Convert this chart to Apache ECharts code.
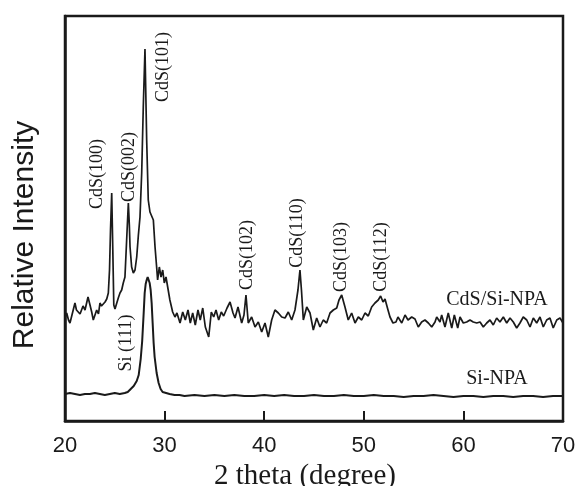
<!DOCTYPE html>
<html>
<head>
<meta charset="utf-8">
<script src="https://cdn.jsdelivr.net/npm/echarts@6/dist/echarts.min.js"></script>
<style>
html,body{margin:0;padding:0;background:#fff;}
#chart{width:576px;height:486px;}
</style>
</head>
<body>
<div id="chart"></div>
<script>
// X-axis ticks (2 theta, degree)
var xTicks = [20, 30, 40, 50, 60, 70];

// CdS/Si-NPA pattern: 2 theta (deg) and relative intensity (arb. units)
var cdsTheta = [20.00,20.17,20.35,20.50,20.70,21.00,21.15,21.31,21.51,21.68,21.81,22.01,22.31,22.51,22.68,22.84,23.01,23.18,23.36,23.51,23.66,23.82,24.02,24.19,24.35,24.47,24.57,24.69,24.80,24.90,25.02,25.19,25.35,25.52,25.69,25.85,26.02,26.19,26.36,26.46,26.53,26.69,26.86,27.03,27.20,27.36,27.53,27.70,27.86,28.03,28.20,28.36,28.53,28.70,28.87,29.04,29.20,29.30,29.47,29.64,29.81,29.97,30.14,30.31,30.53,30.81,31.04,31.24,31.55,31.82,32.08,32.35,32.58,32.82,33.08,33.35,33.58,33.83,34.09,34.43,34.69,34.93,35.16,35.43,35.69,35.93,36.27,36.57,36.87,37.07,37.37,37.74,37.97,38.17,38.40,38.74,39.08,39.41,39.75,40.08,40.41,40.75,41.08,41.42,41.76,42.09,42.42,42.76,43.09,43.39,43.59,43.74,43.93,44.27,44.60,44.93,45.27,45.60,45.93,46.27,46.61,46.94,47.28,47.51,47.78,48.11,48.44,48.78,49.12,49.45,49.79,50.12,50.45,50.79,51.12,51.45,51.69,51.93,52.13,52.43,52.63,52.93,53.23,53.43,53.81,54.14,54.44,54.81,55.14,55.47,55.81,56.14,56.48,56.82,57.15,57.32,57.65,57.82,58.15,58.48,58.83,59.09,59.43,59.66,59.99,60.33,60.66,60.99,61.34,61.67,62.00,62.34,62.67,63.00,63.34,63.67,64.01,64.35,64.68,65.01,65.35,65.68,66.01,66.36,66.69,67.02,67.36,67.69,68.02,68.36,68.69,69.02,69.37,69.70,70.00];
var cdsIntensity = [103,108,101,98,106,118,111,113,107,108,115,111,124,116,109,101,106,111,107,118,115,113,119,122,128,151,191,228,171,116,112,113,123,128,131,138,144,181,218,196,174,154,148,151,164,185,204,248,314,372,281,221,209,211,201,174,154,141,154,144,151,138,144,134,121,109,104,108,98,109,101,111,98,108,96,111,101,113,94,84,109,104,111,101,109,105,113,119,108,103,114,98,106,126,98,104,94,99,89,98,84,101,111,108,104,103,109,101,111,131,151,131,101,114,108,91,103,94,101,98,108,111,113,121,126,114,101,108,98,104,101,108,105,114,118,121,125,119,122,111,104,98,99,104,98,106,101,104,102,94,99,101,98,94,99,104,99,106,94,108,93,106,93,104,98,99,101,99,98,99,94,98,101,96,103,99,104,98,103,99,93,98,104,101,94,103,98,104,94,101,103,93,101,103,98];

// Si-NPA pattern
var siTheta = [20.0,20.5,21.0,21.5,22.0,22.5,23.0,23.5,24.0,24.5,25.0,25.5,26.0,26.3,26.6,26.9,27.2,27.4,27.6,27.75,27.9,28.0,28.1,28.2,28.3,28.4,28.5,28.6,28.7,28.8,28.9,29.0,29.2,29.4,29.6,29.8,30.0,30.5,31.0,31.5,32.0,33.0,34.0,35.0,36.0,37.0,38.0,39.0,40.0,41.0,42.0,43.0,44.0,45.0,46.0,47.0,48.0,49.0,50.0,51.0,52.0,53.0,54.0,55.0,56.0,57.0,58.0,59.0,60.0,61.0,62.0,63.0,64.0,65.0,66.0,67.0,68.0,69.0,70.0];
var siIntensity = [27,28,27,26,27,27,28,27,26,27,28,27,28,29,32,35,40,46,62,80,108,128,137,141,144,143,138,131,118,98,78,64,48,38,32,29,28,27,26,26,25,26,25,26,25,26,25,25,26,25,26,25,25,26,25,25,26,25,25,26,25,25,24,25,25,26,25,24,25,25,24,25,25,24,25,25,24,25,25];

// Annotation texts
var peakLabels = ['CdS(100)', 'CdS(002)', 'CdS(101)', 'CdS(102)', 'CdS(110)', 'CdS(103)', 'CdS(112)', 'Si (111)'];
var seriesNames = ['CdS/Si-NPA', 'Si-NPA'];

function pairs(xs, ys) {
  var out = [];
  for (var i = 0; i < xs.length; i++) out.push([xs[i], ys[i]]);
  return out;
}

var serif = 'Liberation Serif, Times New Roman, serif';
var sans = 'Liberation Sans, Arial, sans-serif';
var ink = '#1a1a1a';

// label anchor placement (pixels) for the rotated peak annotations
var peakPos = [[97,174],[129,167],[163,67],[247,255],[297,233],[341,257],[381,257],[126,343]];
var graphics = peakLabels.map(function (t, i) {
  return {
    type: 'text', x: peakPos[i][0], y: peakPos[i][1], rotation: Math.PI / 2,
    style: { text: t, fill: ink, font: '18px ' + serif, align: 'center', verticalAlign: 'middle' }
  };
});
graphics.push({ type: 'text', x: 497, y: 300, style: { text: seriesNames[0], fill: ink, font: '20px ' + serif, align: 'center', verticalAlign: 'middle' } });
graphics.push({ type: 'text', x: 497, y: 379, style: { text: seriesNames[1], fill: ink, font: '20px ' + serif, align: 'center', verticalAlign: 'middle' } });

var chart = echarts.init(document.getElementById('chart'), null, { renderer: 'canvas' });
chart.setOption({
  animation: false,
  backgroundColor: '#fff',
  grid: { left: 65, right: 13, top: 16, bottom: 65, show: true, borderColor: ink, borderWidth: 2.5, backgroundColor: 'transparent', containLabel: false, outerBoundsMode: 'none' },
  xAxis: {
    type: 'value', min: xTicks[0], max: xTicks[xTicks.length - 1], interval: 10,
    name: '2 theta (degree)', nameLocation: 'middle', nameGap: 41,
    nameTextStyle: { fontFamily: serif, fontSize: 29, color: ink, padding: [0, 18, 0, 0] },
    axisLine: { show: true, lineStyle: { color: ink, width: 2.5 } },
    axisTick: { show: true, inside: true, length: 10, lineStyle: { color: ink, width: 2 } },
    axisLabel: { fontFamily: sans, fontSize: 22, color: ink, margin: 14 },
    splitLine: { show: false }
  },
  yAxis: {
    type: 'value', min: 0, max: 405,
    name: 'Relative Intensity', nameLocation: 'middle', nameGap: 25, nameRotate: 90,
    nameTextStyle: { fontFamily: sans, fontSize: 30, color: ink, padding: [0, 33, 0, 0] },
    axisLine: { show: true, lineStyle: { color: ink, width: 2.5 } },
    axisTick: { show: false }, axisLabel: { show: false }, splitLine: { show: false }
  },
  series: [
    { name: seriesNames[0], type: 'line', data: pairs(cdsTheta, cdsIntensity), showSymbol: false, symbol: 'none',
      lineStyle: { color: ink, width: 1.7 }, z: 3 },
    { name: seriesNames[1], type: 'line', data: pairs(siTheta, siIntensity), showSymbol: false, symbol: 'none',
      lineStyle: { color: ink, width: 2 }, z: 3 }
  ],
  graphic: graphics
});
</script>
</body>
</html>
